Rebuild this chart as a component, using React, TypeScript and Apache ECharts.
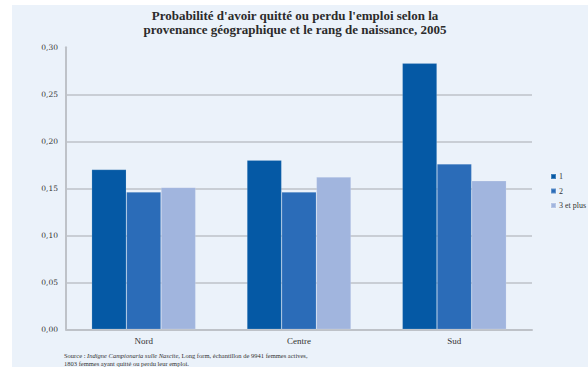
import React, { useEffect, useRef } from "react";
import * as echarts from "echarts";

// Categories: geographic origin
const regions = ["Nord", "Centre", "Sud"];
// Birth rank series
const rankNames = ["1", "2", "3 et plus"];
const rank1 = [0.17, 0.18, 0.283];
const rank2 = [0.146, 0.146, 0.176];
const rank3 = [0.151, 0.162, 0.158];

const titleLines = [
  "Probabilité d'avoir quitté ou perdu l'emploi selon la",
  "provenance géographique et le rang de naissance, 2005",
];

const colors = ["#0559A5", "#2B6CB8", "#A1B5DE"];
const serif = "'Liberation Serif', 'DejaVu Serif', serif";

export default function App() {
  const ref = useRef<HTMLDivElement>(null);

  useEffect(() => {
    if (!ref.current) return;
    const chart = echarts.init(ref.current, null, { renderer: "svg" });
    const seriesData = [rank1, rank2, rank3];

    chart.setOption({
      animation: false,
      backgroundColor: "#ffffff",
      textStyle: { fontFamily: serif },
      title: {
        text: titleLines.join("\n"),
        left: 295,
        top: 8,
        textAlign: "center",
        padding: 0,
        textStyle: {
          fontFamily: serif,
          fontWeight: "bold",
          fontSize: 13,
          lineHeight: 14,
          color: "#2b2b2b",
        },
      },
      graphic: [
        {
          type: "rect",
          z: -10,
          silent: true,
          shape: { x: 12, y: 5, width: 576, height: 362 },
          style: { fill: "#EBF2FA" },
        },
        {
          type: "text",
          left: 64,
          top: 351,
          style: {
            text:
              "{n|Source : }{i|Indigne Campionaria sulle Nascite}{n|, Long form, échantillon de 9941 femmes actives,}\n{n|1803 femmes ayant quitté ou perdu leur emploi.}",
            fontFamily: serif,
            fontSize: 6.5,
            lineHeight: 8,
            fill: "#333",
            rich: {
              n: { fontFamily: serif, fontSize: 6.5, fill: "#333", lineHeight: 8 },
              i: { fontFamily: serif, fontSize: 6.5, fontStyle: "italic", fill: "#333", lineHeight: 8 },
            },
          },
        },
      ],
      legend: {
        orient: "vertical",
        left: 545,
        top: 166.5,
        icon: "rect",
        itemWidth: 5,
        itemHeight: 5,
        itemGap: 4.5,
        textStyle: { fontFamily: serif, fontSize: 8, color: "#333", lineHeight: 10, padding: [0, 0, 0, -2] },
        data: rankNames,
      },
      grid: { left: 66, right: 56, top: 47.3, bottom: 37.7 },
      xAxis: {
        type: "category",
        data: regions,
        axisLine: { show: true, lineStyle: { color: "#BEC2C8", width: 2 } },
        axisTick: { show: false },
        axisLabel: { fontFamily: serif, fontSize: 9, color: "#333", margin: 7 },
      },
      yAxis: {
        type: "value",
        min: 0,
        max: 0.3,
        interval: 0.05,
        axisLine: { show: true, lineStyle: { color: "#BEC2C8", width: 2 } },
        axisTick: { show: false },
        splitLine: { show: true, showMaxLine: false, lineStyle: { color: "#BEC2C8", width: 1.5 } },
        axisLabel: {
          fontFamily: "'DejaVu Serif', serif",
          fontSize: 7.5,
          color: "#333",
          margin: 8,
          formatter: (v: number) => v.toFixed(2).replace(".", ","),
        },
      },
      series: rankNames.map((name, i) => ({
        name,
        type: "bar",
        data: seriesData[i],
        barGap: "0%",
        barCategoryGap: "33%",
        itemStyle: { color: colors[i], borderColor: "rgba(255,255,255,0.25)", borderWidth: 0.6 },
      })),
    });

    return () => chart.dispose();
  }, []);

  return (
    <div
      ref={ref}
      style={{ position: "fixed", left: 0, top: 0, width: 588, height: 367 }}
    />
  );
}
